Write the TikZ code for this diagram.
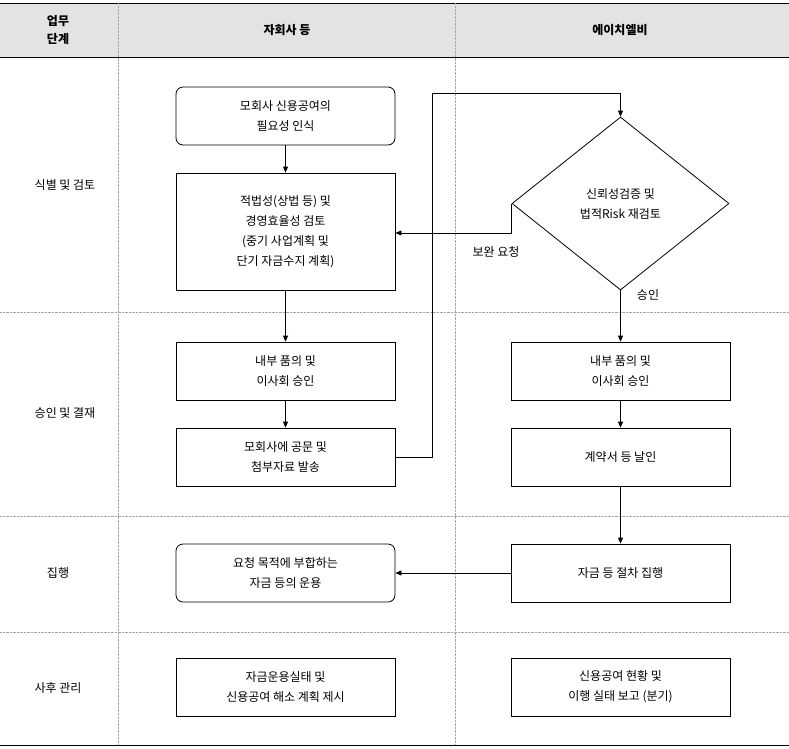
\documentclass[tikz,border=0pt]{standalone}
\usepackage{fontspec}
\setmainfont{Noto Sans CJK KR}
\usetikzlibrary{shapes.geometric,arrows.meta}
\begin{document}
\begin{tikzpicture}[x=1pt,y=-1pt,
  box/.style={draw,thick,minimum width=219pt,minimum height=58pt,align=center,font=\fontsize{12}{20}\selectfont},
  rbox/.style={box,rounded corners=7pt},
  lbl/.style={font=\fontsize{12}{20}\selectfont,align=center},
  hdr/.style={font=\bfseries\fontsize{12}{18}\selectfont,align=center},
  arr/.style={thick,-{Triangle[length=6pt,width=5pt]}},
  sep/.style={gray!70,densely dotted}]
\useasboundingbox (0,0) rectangle (789,748);
\fill[gray!22] (0,3) rectangle (789,57);
\draw[thick] (0,3) -- (789,3);
\draw[thick] (0,57) -- (789,57);
\draw[thick] (0,745) -- (789,745);
\draw[sep] (118,3) -- (118,745);
\draw[sep] (455,3) -- (455,745);
\draw[sep] (0,312) -- (789,312);
\draw[sep] (0,516) -- (789,516);
\draw[sep] (0,632) -- (789,632);
\node[hdr] (h1) at (58,30) {업무\\단계};
\node[hdr] (h2) at (287,30) {자회사 등};
\node[hdr] (h3) at (620,30) {에이치엘비};
\node[lbl] (r1) at (65,185) {식별 및 검토};
\node[lbl] (r2) at (65,413) {승인 및 결재};
\node[lbl] (r3) at (58,573) {집행};
\node[lbl] (r4) at (58,688) {사후 관리};
\node[rbox] (A) at (285.5,116) {모회사 신용공여의\\필요성 인식};
\node[box,minimum height=117pt] (B) at (285.5,231.5) {적법성(상법 등) 및\\경영효율성 검토\\(중기 사업계획 및\\단기 자금수지 계획)};
\node[box] (C) at (285.5,371) {내부 품의 및\\이사회 승인};
\node[box] (D) at (285.5,457) {모회사에 공문 및\\첨부자료 발송};
\node[rbox] (E) at (285.5,573) {요청 목적에 부합하는\\자금 등의 운용};
\node[box] (F) at (285.5,687) {자금운용실태 및\\신용공여 해소 계획 제시};
\node[draw,thick,diamond,minimum width=217pt,minimum height=173pt,inner sep=0pt,lbl] (K) at (620.5,203.5) {신뢰성검증 및\\법적Risk 재검토};
\node[box] (G) at (620.5,371) {내부 품의 및\\이사회 승인};
\node[box] (H) at (620.5,457) {계약서 등 날인};
\node[box] (I) at (620.5,573) {자금 등 절차 집행};
\node[box] (J) at (620.5,687) {신용공여 현황 및\\이행 실태 보고 (분기)};
\draw[arr] (A) -- (B);
\draw[arr] (B) -- (C);
\draw[arr] (C) -- (D);
\draw[arr] (D.east) -- (432,457) -- (432,93) -- (620.5,93) -- (K.north);
\draw[arr] (K.west) -- (K.west |- 0,233) -- (B.east |- 0,233);
\node[lbl] (l1) at (496,252) {보완 요청};
\draw[arr] (K.south) -- (G);
\node[lbl] (l2) at (648,295) {승인};
\draw[arr] (G) -- (H);
\draw[arr] (H) -- (I);
\draw[arr] (I) -- (E);
\end{tikzpicture}
\end{document}
